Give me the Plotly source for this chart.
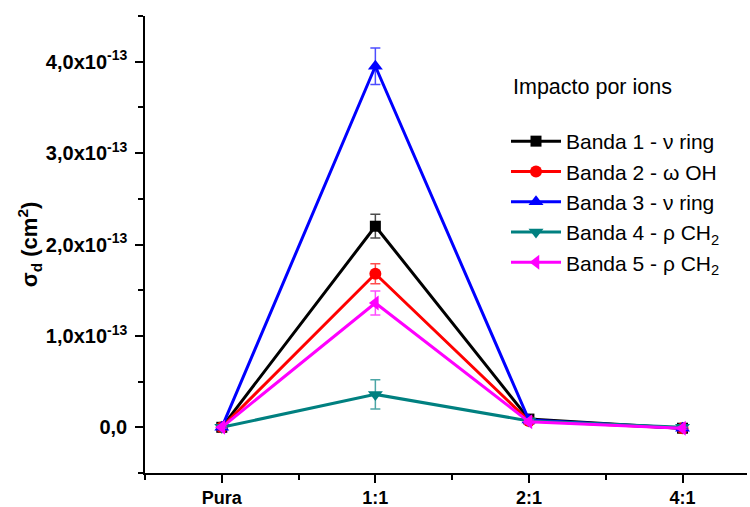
import plotly.graph_objects as go

# amostras (eixo x)
categories = ["Pura", "1:1", "2:1", "4:1"]

# secao de choque de destruicao, em unidades de 1e-13 cm^2
band_names = [
    "Banda 1 - \u03bd ring",
    "Banda 2 - \u03c9 OH",
    "Banda 3 - \u03bd ring",
    "Banda 4 - \u03c1 CH<sub>2</sub>",
    "Banda 5 - \u03c1 CH<sub>2</sub>",
]
banda1 = [0.0, 2.20, 0.09, -0.01]
banda2 = [0.0, 1.68, 0.07, -0.01]
banda3 = [0.0, 3.95, 0.08, -0.01]
banda4 = [0.0, 0.36, 0.07, 0.0]
banda5 = [0.0, 1.36, 0.06, -0.01]

err1 = [0.01, 0.13, 0.02, 0.01]
err2 = [0.01, 0.11, 0.02, 0.01]
err3 = [0.01, 0.20, 0.02, 0.01]
err4 = [0.01, 0.16, 0.02, 0.01]
err5 = [0.01, 0.13, 0.02, 0.01]

y_ticks = [0, 1, 2, 3, 4]
y_ticktext = ["<b>0,0</b>"] + ["<b>%d,0x10<sup>-13</sup></b>" % v for v in y_ticks[1:]]

series = [banda1, banda2, banda3, banda4, banda5]
errors = [err1, err2, err3, err4, err5]
colors = ["#000000", "#FF0000", "#0000FF", "#008080", "#FF00FF"]
err_colors = ["rgba(0,0,0,0.7)", "rgba(255,0,0,0.7)", "rgba(0,0,255,0.7)",
              "rgba(0,128,128,0.7)", "rgba(255,0,255,0.7)"]
symbols = ["square", "circle", "triangle-up", "triangle-down", "triangle-left"]
sizes = [11, 12, 13, 13, 13]

FONT = "Liberation Sans, Arial, sans-serif"

W, H = 750, 507
ML, MR, MT, MB = 145, 3, 16, 34
pw, ph = W - ML - MR, H - MT - MB


def px(x):
    return (x - ML) / pw


def py(y):
    return 1 - (y - MT) / ph


fig = go.Figure()
for name, ys, es, c, ec, s, sz in zip(band_names, series, errors, colors, err_colors, symbols, sizes):
    fig.add_trace(go.Scatter(
        x=list(range(len(categories))),
        y=ys,
        name=name,
        mode="lines+markers",
        line=dict(color=c, width=3),
        marker=dict(symbol=s, size=sz, color=c),
        error_y=dict(type="data", array=es, color=ec, thickness=1.5, width=5),
    ))

fig.add_annotation(
    x=px(511), y=py(87), xref="paper", yref="paper", text="Impacto por ions",
    showarrow=False, xanchor="left", yanchor="middle",
    font=dict(family=FONT, size=21.5, color="black"),
)

fig.update_layout(
    width=W, height=H,
    margin=dict(l=ML, r=MR, t=MT, b=MB),
    plot_bgcolor="white", paper_bgcolor="white",
    font=dict(family=FONT, color="black"),
    showlegend=True,
    legend=dict(
        x=px(506), y=py(121), xanchor="left", yanchor="top",
        font=dict(family=FONT, size=21, color="black"),
        bgcolor="rgba(0,0,0,0)", tracegroupgap=0, itemwidth=50,
    ),
    xaxis=dict(
        range=[-0.5, 3.42],
        automargin=False,
        tickvals=list(range(len(categories))),
        ticktext=["<b>%s</b>" % c for c in categories],
        tickfont=dict(family=FONT, size=18, color="black"),
        showgrid=False, zeroline=False,
        showline=True, linecolor="black", linewidth=1.5,
        ticks="outside", ticklen=8, tickwidth=1.5, tickcolor="black",
        minor=dict(dtick=0.5, tick0=0.5, ticks="outside", ticklen=5, tickwidth=1.5, tickcolor="black"),
    ),
    yaxis=dict(
        range=[-0.5, 4.5],
        automargin=False,
        tickvals=y_ticks,
        ticktext=y_ticktext,
        tickfont=dict(family=FONT, size=20, color="black"),
        ticklabelstandoff=4,
        showgrid=False, zeroline=False,
        showline=True, linecolor="black", linewidth=1.5,
        ticks="outside", ticklen=8, tickwidth=1.5, tickcolor="black",
        minor=dict(dtick=0.5, tick0=0.5, ticks="outside", ticklen=5, tickwidth=1.5, tickcolor="black"),
        title=dict(text="<b>\u03c3<sub>d</sub> (cm<sup>2</sup>)</b>",
                   font=dict(family=FONT, size=22, color="black"), standoff=2),
    ),
)

# drop the browser's default 8px page margin so the figure fills the window
fig.write_html("out.html", config={"displayModeBar": False},
               post_script="document.body.style.margin = '0';")
